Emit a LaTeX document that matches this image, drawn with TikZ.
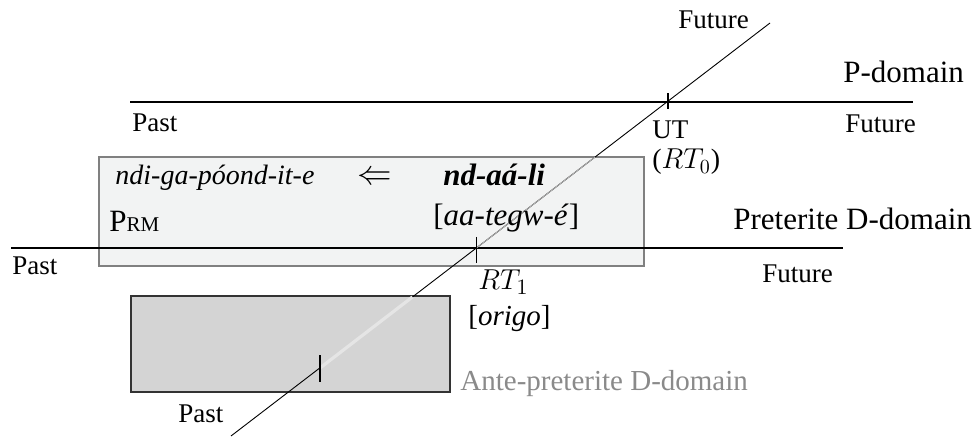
\documentclass[tikz,border=0pt]{standalone}
\usepackage{fontspec}
\setmainfont{Liberation Serif}
\usepackage{tikz}
\usetikzlibrary{positioning,calc}

\definecolor{boxlight}{HTML}{F2F3F3}
\definecolor{boxdark}{HTML}{D4D4D4}
\definecolor{antegray}{HTML}{8A8A8A}

\begin{document}
\begin{tikzpicture}[
    x=0.5pt, y=-0.5pt,
    lbl/.style={inner sep=0pt, anchor=base west, font=\fontsize{13.5}{16}\selectfont},
    dom/.style={inner sep=0pt, anchor=base west, font=\fontsize{15.5}{18}\selectfont},
    word/.style={inner sep=0pt, anchor=base west, font=\fontsize{14}{18}\selectfont\itshape},
    timeline/.style={draw, line width=0.8pt},
    axis/.style={draw, line width=0.45pt},
    tick/.style={draw, line width=0.8pt}
]
    \useasboundingbox (0,0) rectangle (974,438);

    % domain boxes
    \draw [fill=boxlight, draw=gray, line width=0.7pt] (99,157) rectangle (644,266);
    \draw [fill=boxdark, draw=black!80, line width=0.6pt] (131,296) rectangle (450,392);

    % time lines
    \coordinate (ppast) at (130,102);
    \coordinate (pfut) at (913,102);
    \coordinate (dpast) at (11,248);
    \coordinate (dfut) at (843,248);
    \coordinate (apast) at (231,436);
    \coordinate (afut) at (770,23);
    \path [timeline] (ppast) -- (pfut);
    \path [timeline] (dpast) -- (dfut);
    \path [axis] (apast) -- (afut);

    % diagonal inside the boxes
    \coordinate (utop) at (595.1,157);
    \coordinate (rt1) at (476.4,248);
    \coordinate (ltop) at (412.4,297);
    \coordinate (org) at (320,368);
    \path [draw, line width=0.45pt, black!30] (utop) -- (rt1);
    \path [draw, line width=1.6pt, black!10] (ltop) -- (org);

    % ticks
    \coordinate (ut) at (668,101.5);
    \path [tick] ($(ut)+(0,-8)$) -- ($(ut)+(0,8)$);
    \path [tick] ($(rt1)+(0,-11)$) -- ($(rt1)+(0,15)$);
    \path [tick] ($(org)+(0,-13)$) -- ($(org)+(0,14)$);

    % labels
    \node [lbl] (futtop) at (678,29) {Future};
    \node [dom] (pdom) at (843,83) {P-domain};
    \node [lbl] (pastp) at (132,132) {Past};
    \node [lbl] (futp) at (845,133) {Future};
    \node [lbl] (utlbl) at (652,139) {UT};
    \node [lbl, font=\fontsize{14}{16}\selectfont] (rt0) at (652,169) {($RT_0$)};
    \node [word] (ndiga) at (115,185) {ndi-ga-póond-it-e};
    \node [lbl, font=\fontsize{17}{18}\selectfont] (back) at (357,185) {$\Leftarrow$};
    \node [word, font=\fontsize{15.5}{18}\selectfont\bfseries\itshape] (ndaali) at (443,186) {nd-aá-li};
    \node [dom] (aategwe) at (433,226) {[\textit{aa-tegw-é}]};
    \node [dom] (prm) at (109,232) {P{\fontsize{10.5}{12}\selectfont RM}};
    \node [dom] (pretdom) at (733,230) {Preterite D-domain};
    \node [lbl] (pastd) at (12,275) {Past};
    \node [lbl] (futd) at (762,283) {Future};
    \node [lbl, font=\fontsize{15}{18}\selectfont] (rt1lbl) at (478,290) {$RT_1$};
    \node [dom, font=\fontsize{14.5}{18}\selectfont] (origo) at (468,325) {[\textit{origo}]};
    \node [dom, font=\fontsize{14.5}{18}\selectfont, text=antegray] (antedom) at (460,390) {Ante-preterite D-domain};
    \node [lbl] (pasta) at (178,422) {Past};
\end{tikzpicture}
\end{document}
